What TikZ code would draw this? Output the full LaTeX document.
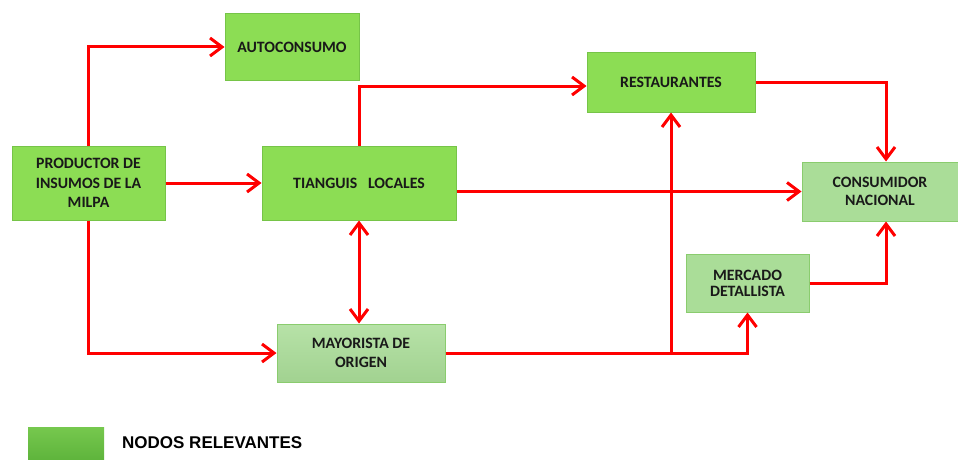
\documentclass[tikz,border=0pt]{standalone}
\usepackage{fontspec}
\setmainfont{Carlito}
\newfontfamily\leyenda{Liberation Sans}
\usetikzlibrary{arrows.meta}
\definecolor{verde}{RGB}{140,221,84}
\definecolor{verdeborde}{RGB}{118,196,72}
\definecolor{verdeclaro}{RGB}{170,221,152}
\definecolor{verdeclaroborde}{RGB}{138,204,110}
\definecolor{verdeley}{RGB}{118,200,78}
\definecolor{verdeleyosc}{RGB}{92,178,58}
\definecolor{rojo}{RGB}{255,0,0}
\definecolor{texto}{RGB}{25,25,25}

\begin{document}
\begin{tikzpicture}[x=1pt, y=-1pt,
    every node/.style={font=\bfseries\fontsize{15.8}{19.5}\selectfont, align=center, inner sep=0pt, text=texto},
    nodo/.style={draw=verdeborde, fill=verde, line width=1pt},
    nodoclaro/.style={draw=verdeclaroborde, fill=verdeclaro, line width=1pt},
    flecha/.style={draw=rojo, line width=3pt, -{Straight Barb[length=12pt,width=18pt]}}]

\useasboundingbox (0,0) rectangle (958,460);

% Nodos
\node[nodo, minimum width=153, minimum height=74] (prod) at (88.5,183) {PRODUCTOR DE\\INSUMOS DE LA\\MILPA};
\node[nodo, minimum width=134, minimum height=66] (auto) at (292,47) {AUTOCONSUMO};
\node[nodo, minimum width=194, minimum height=74] (tian) at (359,183) {TIANGUIS\ \ \ LOCALES};
\node[nodo, minimum width=168, minimum height=59] (rest) at (671,82.5) {RESTAURANTES};
\node[nodoclaro, minimum width=156, minimum height=59, font=\bfseries\fontsize{15.8}{17.5}\selectfont] (cons) at (880,191.5) {CONSUMIDOR\\NACIONAL};
\node[nodoclaro, minimum width=123, minimum height=58, font=\bfseries\fontsize{15.8}{16}\selectfont] (merc) at (747.5,283) {MERCADO\\DETALLISTA};
\node[nodoclaro, top color=verdeclaro!85!white, bottom color=verdeclaro!95!black, minimum width=168, minimum height=58] (may) at (361,353) {MAYORISTA DE\\ORIGEN};

% Conexiones
\draw[flecha] (prod.north) |- (auto.west);
\draw[flecha] (prod.east) -- (tian.west);
\draw[flecha] (prod.south) |- (may.west);
\draw[flecha] (tian.north) |- ([yshift=-3.5pt]rest.west);
\draw[flecha] (tian.east |- cons.west) -- (cons.west);
\draw[flecha, {Straight Barb[length=12pt,width=18pt]}-{Straight Barb[length=12pt,width=18pt]}] (tian.south) -- (tian.south |- may.north);
\draw[flecha] (rest.east) -| ([xshift=6pt]cons.north);
\draw[flecha] (may.east) -| (merc.south);
\draw[flecha] (rest.south |- may.east) -- (rest.south);
\draw[flecha] (merc.east) -| ([xshift=6pt]cons.south);

% Leyenda
\node[top color=verdeley, bottom color=verdeleyosc, minimum width=76, minimum height=36, anchor=north west] (caja) at (28,427) {};
\node[right, font=\leyenda\bfseries\fontsize{17}{20}\selectfont, text=black] (ley) at (122,443) {NODOS RELEVANTES};

\end{tikzpicture}
\end{document}
